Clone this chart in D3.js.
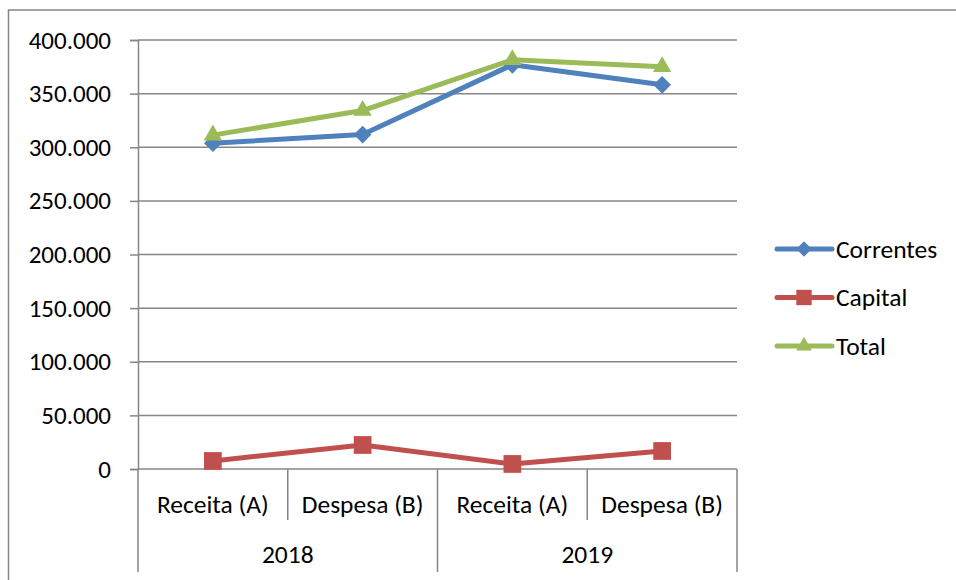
<!DOCTYPE html>
<html>
<head>
<meta charset="utf-8">
<script src="https://cdn.jsdelivr.net/npm/d3@7"></script>
<style>
  html, body { margin: 0; padding: 0; background: #fff; }
  svg { display: block; }
  text { font-family: Carlito, Lato, "Open Sans", sans-serif; fill: #000; }
</style>
</head>
<body>
<svg id="chart" width="956" height="580"></svg>
<script>
// Categories: two measures per year
const categories = ["Receita (A)", "Despesa (B)", "Receita (A)", "Despesa (B)"];
const years = ["2018", "2019"];

// Series values
const correntes = [303800, 311800, 376900, 358200];
const capital   = [7500, 22400, 4700, 16800];
const total     = [311300, 334200, 381600, 375000];

// Y axis ticks
const yTicks = [0, 50000, 100000, 150000, 200000, 250000, 300000, 350000, 400000];

const series = [
  { name: "Correntes", values: correntes, color: "#4F81BD", symbol: d3.symbolDiamond2, size: 200 },
  { name: "Capital",   values: capital,   color: "#C0504D", symbol: d3.symbolSquare2,  size: 400 },
  { name: "Total",     values: total,     color: "#9BBB59", symbol: d3.symbolTriangle2, size: 240 }
];

const svg = d3.select("#chart");
const grid = "#868686";
const font = "Carlito, Lato, 'Open Sans', sans-serif";
const fmt = v => v === 0 ? "0" : d3.format(",")(v).replace(/,/g, ".");

const plot = { left: 138, right: 737, top: 40, bottom: 469 };

const x = d3.scaleBand()
  .domain(d3.range(categories.length))
  .range([plot.left, plot.right])
  .paddingInner(0).paddingOuter(0);

const y = d3.scaleLinear()
  .domain([0, 400000])
  .range([plot.bottom, plot.top]);

// Outer chart frame
svg.append("path")
  .attr("d", "M8.5,580 L8.5,10 L956,10")
  .attr("fill", "none")
  .attr("stroke", grid)
  .attr("stroke-width", 1.5);

// Horizontal gridlines
svg.append("g")
  .selectAll("line")
  .data(yTicks.filter(t => t > 0))
  .join("line")
  .attr("x1", plot.left).attr("x2", plot.right)
  .attr("y1", d => y(d)).attr("y2", d => y(d))
  .attr("stroke", grid).attr("stroke-width", 1.5);

// Y axis
const yAxis = svg.append("g")
  .attr("transform", `translate(${plot.left},0)`)
  .call(d3.axisLeft(y).tickValues(yTicks).tickFormat(fmt).tickSize(8).tickPadding(19));
yAxis.select(".domain").attr("stroke", grid).attr("stroke-width", 1.5);
yAxis.selectAll(".tick line").attr("stroke", grid).attr("stroke-width", 1.5);
yAxis.selectAll(".tick text")
  .style("font-family", font)
  .style("font-size", "25px")
  .attr("fill", "#000");

// Category axis line
svg.append("line")
  .attr("x1", plot.left).attr("x2", plot.right)
  .attr("y1", plot.bottom).attr("y2", plot.bottom)
  .attr("stroke", grid).attr("stroke-width", 1.5);

// Separators between categories (short) and between years (long)
const sepX = d3.range(categories.length + 1).map(i => i < categories.length ? x(i) : x.range()[1]);
svg.append("g")
  .selectAll("line")
  .data(sepX)
  .join("line")
  .attr("x1", d => d).attr("x2", d => d)
  .attr("y1", plot.bottom)
  .attr("y2", (d, i) => i % 2 === 0 ? 572 : 520)
  .attr("stroke", grid).attr("stroke-width", 1.5);

// Category labels
svg.append("g")
  .selectAll("text")
  .data(categories)
  .join("text")
  .attr("x", (d, i) => x(i) + x.bandwidth() / 2)
  .attr("y", 504)
  .attr("text-anchor", "middle")
  .attr("dominant-baseline", "central")
  .style("font-size", "25.5px")
  .text(d => d);

// Year labels
svg.append("g")
  .selectAll("text")
  .data(years)
  .join("text")
  .attr("x", (d, i) => x(i * 2) + x.bandwidth())
  .attr("y", 554)
  .attr("text-anchor", "middle")
  .attr("dominant-baseline", "central")
  .style("font-size", "25.5px")
  .text(d => d);

// Lines and markers
const line = d3.line()
  .x((d, i) => x(i) + x.bandwidth() / 2)
  .y(d => y(d));

const sg = svg.append("g").selectAll("g").data(series).join("g");
sg.append("path")
  .attr("d", d => line(d.values))
  .attr("fill", "none")
  .attr("stroke", d => d.color)
  .attr("stroke-width", 5)
  .attr("stroke-linejoin", "round")
  .attr("stroke-linecap", "round");
sg.each(function (s) {
  d3.select(this).selectAll("path.mark")
    .data(s.values)
    .join("path")
    .attr("class", "mark")
    .attr("transform", (d, i) => `translate(${x(i) + x.bandwidth() / 2},${y(d)})`)
    .attr("d", d3.symbol(s.symbol, s.size))
    .attr("fill", s.color);
});

// Legend
const legend = svg.append("g")
  .selectAll("g")
  .data(series)
  .join("g")
  .attr("transform", (d, i) => `translate(0,${249 + i * 48.5})`);
legend.append("line")
  .attr("x1", 777).attr("x2", 832)
  .attr("stroke", d => d.color)
  .attr("stroke-width", 5)
  .attr("stroke-linecap", "round");
legend.append("path")
  .attr("transform", "translate(804,0)")
  .attr("d", d => d3.symbol(d.symbol, d.size * 0.75)())
  .attr("fill", d => d.color);
legend.append("text")
  .attr("x", 836)
  .attr("y", 0)
  .attr("dominant-baseline", "central")
  .style("font-size", "25.5px")
  .text(d => d.name);
</script>
</body>
</html>
